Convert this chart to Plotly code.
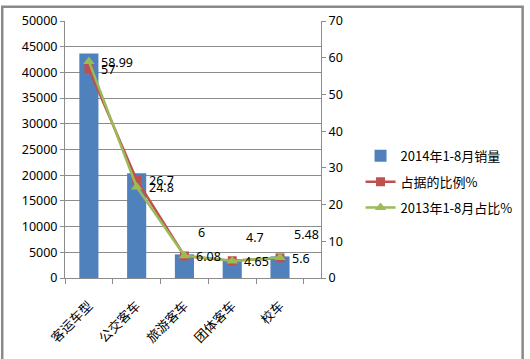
import plotly.graph_objects as go

categories = ["客运车型", "公交客车", "旅游客车", "团体客车", "校车"]
sales_2014 = [43700, 20400, 4600, 3600, 4200]
share_2014 = [57, 26.7, 6, 4.7, 5.48]
share_2013 = [58.99, 24.8, 6.08, 4.65, 5.6]
share_2014_labels = ["57", "26.7", "6", "4.7", "5.48"]
share_2013_labels = ["58.99", "24.8", "6.08", "4.65", "5.6"]
left_ticks = list(range(0, 50001, 5000))
right_ticks = list(range(0, 71, 10))

# label placement: 'r' = right of marker, 't' = above-right
red_place = ["r", "r", "t", "t", "t"]
green_place = ["r", "r", "r", "r", "r"]

W, H = 530, 359
ML, MR, MT, MB = 65, 206, 16, 81

BLUE = "#4F81BD"
RED = "#C0504D"
GREEN = "#9BBB59"
GRID = "#8C8C8C"
NUM_FONT = "Noto Sans, Open Sans, sans-serif"
CJK_FONT = "Noto Sans CJK SC, sans-serif"

fig = go.Figure()
fig.add_trace(go.Bar(
    x=categories, y=sales_2014, name="2014年1-8月销量",
    marker=dict(color=BLUE, line=dict(width=0)), yaxis="y",
    legendgroup="a",
))
fig.add_trace(go.Scatter(
    x=categories, y=share_2014, name="占据的比例%", yaxis="y2",
    mode="lines+markers",
    line=dict(color=RED, width=2.5),
    marker=dict(symbol="square", size=9, color=RED),
    legendgroup="b",
))
fig.add_trace(go.Scatter(
    x=categories, y=share_2013, name="2013年1-8月占比%", yaxis="y2",
    mode="lines+markers",
    line=dict(color=GREEN, width=2.5),
    marker=dict(symbol="triangle-up", size=10, color=GREEN),
    legendgroup="c",
))

annotations = []
for labels, vals, place in ((share_2014_labels, share_2014, red_place),
                            (share_2013_labels, share_2013, green_place)):
    for c, v, t, p in zip(categories, vals, labels, place):
        if p == "r":
            xs, ys = 10, -1
        else:
            xs, ys = 12, 23
        annotations.append(dict(
            x=c, y=v, xref="x", yref="y2", text=t, showarrow=False,
            xanchor="left", yanchor="middle", xshift=xs, yshift=ys,
            font=dict(family=NUM_FONT, size=12.5, color="#000000"),
        ))

pw = W - ML - MR
ph = H - MT - MB
shapes = [dict(
    type="rect", xref="paper", yref="paper",
    x0=(1.5 - ML) / pw, x1=(W - 2 - ML) / pw,
    y0=(MB - H + 2) / ph, y1=1 + (MT - 1.5) / ph,
    line=dict(color="#8A8A8A", width=2.5), fillcolor="rgba(0,0,0,0)",
)]

fig.update_layout(
    width=W, height=H,
    margin=dict(l=ML, r=MR, t=MT, b=MB, pad=0),
    paper_bgcolor="white", plot_bgcolor="white",
    bargap=0.6,
    showlegend=True,
    legend=dict(
        x=(364 - ML) / pw, y=(H - MB - 180) / ph, xanchor="left", yanchor="middle",
        xref="paper", yref="paper",
        font=dict(family=CJK_FONT, size=13, color="#000000"),
        traceorder="grouped", tracegroupgap=6,
        bgcolor="rgba(0,0,0,0)",
    ),
    xaxis=dict(
        type="category", tickangle=-45, tickson="boundaries",
        ticks="outside", ticklen=5, tickcolor=GRID,
        ticklabelstandoff=14,
        showline=True, linecolor=GRID, linewidth=1,
        showgrid=False,
        tickfont=dict(family=CJK_FONT, size=13, color="#000000"),
    ),
    yaxis=dict(
        range=[0, 50000], tickvals=left_ticks,
        ticktext=[str(v) for v in left_ticks],
        showgrid=True, gridcolor=GRID, gridwidth=1,
        showline=True, linecolor=GRID, linewidth=1,
        ticks="outside", ticklen=4, tickcolor=GRID,
        zeroline=False,
        tickfont=dict(family=NUM_FONT, size=12.5, color="#000000"),
    ),
    yaxis2=dict(
        range=[0, 70], tickvals=right_ticks,
        overlaying="y", side="right",
        showgrid=False, zeroline=False,
        showline=True, linecolor=GRID, linewidth=1,
        ticks="outside", ticklen=4, tickcolor=GRID,
        tickfont=dict(family=NUM_FONT, size=12.5, color="#000000"),
    ),
    annotations=annotations,
    shapes=shapes,
)

fig.write_html(
    "out.html",
    config={"displayModeBar": False},
    post_script="document.body.style.margin='0';document.body.style.overflow='hidden';",
)
